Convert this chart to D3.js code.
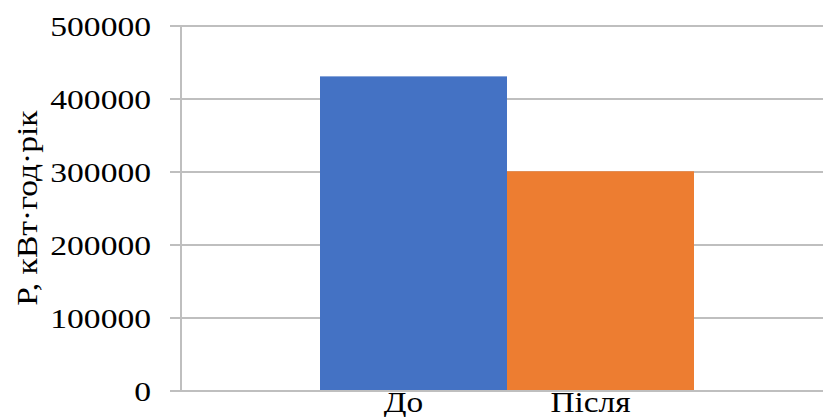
<!DOCTYPE html>
<html>
<head>
<meta charset="utf-8">
<script src="https://cdn.jsdelivr.net/npm/d3@7"></script>
<style>
  body { margin: 0; background: #fff; }
  text { font-family: "Liberation Serif", "Times New Roman", serif; fill: #000; }
</style>
</head>
<body>
<svg id="chart" width="823" height="417"></svg>
<script>
// chart values
const categories = ["До", "Після"];
const values = [431000, 301000];
const colors = ["#4472C4", "#ED7D31"];
const yTicks = [0, 100000, 200000, 300000, 400000, 500000];
const yTitle = "Р, кВт·год·рік";

const svg = d3.select("#chart");

// plot bounds
const plotLeft = 181, plotRight = 823, plotTop = 26, plotBottom = 391;

const y = d3.scaleLinear().domain([0, 500000]).range([plotBottom, plotTop]);
const x = d3.scaleBand().domain(categories).range([320, 694]).padding(0);

// grid lines
svg.append("g")
  .selectAll("line")
  .data(yTicks)
  .join("line")
  .attr("x1", 170)
  .attr("x2", plotRight)
  .attr("y1", d => y(d))
  .attr("y2", d => y(d))
  .attr("stroke", "#bfbfbf")
  .attr("stroke-width", 2);

// vertical axis line
svg.append("line")
  .attr("x1", plotLeft).attr("x2", plotLeft)
  .attr("y1", y(500000)).attr("y2", y(0))
  .attr("stroke", "#bfbfbf")
  .attr("stroke-width", 2);

// bars
svg.append("g")
  .selectAll("rect")
  .data(values)
  .join("rect")
  .attr("x", (d, i) => x(categories[i]))
  .attr("width", x.bandwidth())
  .attr("y", d => y(d))
  .attr("height", d => y(0) - y(d))
  .attr("fill", (d, i) => colors[i]);

// re-draw baseline over bars
svg.append("line")
  .attr("x1", 170).attr("x2", plotRight)
  .attr("y1", y(0)).attr("y2", y(0))
  .attr("stroke", "#bfbfbf")
  .attr("stroke-width", 2);

// y tick labels (horizontally stretched like the source image)
svg.append("g")
  .selectAll("g")
  .data(yTicks)
  .join("g")
  .attr("transform", d => `translate(151,${y(d)}) scale(1.2,1)`)
  .append("text")
  .attr("text-anchor", "end")
  .attr("dy", "0.35em")
  .attr("font-size", 28)
  .text(d => d);

// category labels
svg.append("g")
  .selectAll("g")
  .data(categories)
  .join("g")
  .attr("transform", d => `translate(${x(d) + x.bandwidth() / 2 - 10},${plotBottom + 21}) scale(1.15,1)`)
  .append("text")
  .attr("text-anchor", "middle")
  .attr("font-size", 29)
  .text(d => d);

// y axis title
svg.append("text")
  .attr("transform", "translate(37,208) rotate(-90) scale(1.12,1)")
  .attr("text-anchor", "middle")
  .attr("font-size", 30)
  .text(yTitle);
</script>
</body>
</html>
